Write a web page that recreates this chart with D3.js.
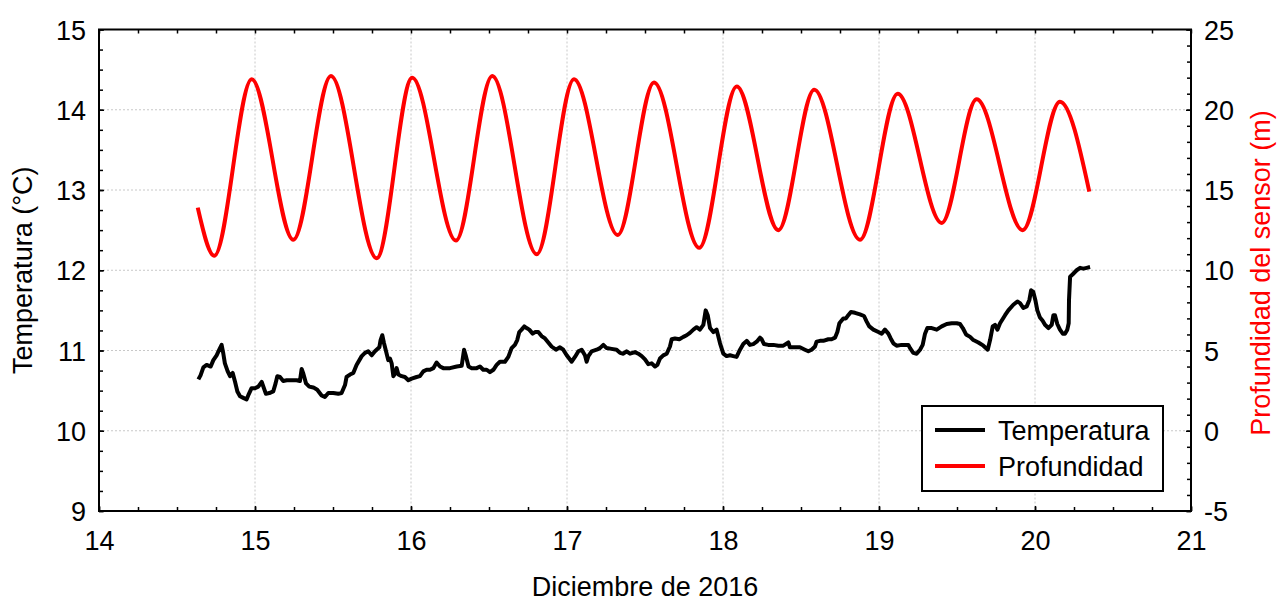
<!DOCTYPE html>
<html>
<head>
<meta charset="utf-8">
<script src="https://cdn.jsdelivr.net/npm/d3@7"></script>
<style>
  body { margin: 0; background: #fff; }
  svg { display: block; font-family: "Liberation Sans", Arial, sans-serif; }
</style>
</head>
<body>
<script>
// temperatura (left axis), dias de diciembre
const tempDay = [14.637,14.651,14.669,14.690,14.716,14.733,14.754,14.771,14.786,14.797,14.807,14.825,14.840,14.857,14.872,14.887,14.904,14.925,14.946,14.961,14.978,15.000,15.021,15.043,15.057,15.070,15.092,15.117,15.132,15.143,15.160,15.181,15.203,15.235,15.267,15.288,15.299,15.310,15.327,15.348,15.374,15.399,15.427,15.448,15.470,15.502,15.534,15.555,15.577,15.587,15.609,15.630,15.651,15.684,15.705,15.726,15.748,15.769,15.797,15.805,15.816,15.827,15.840,15.854,15.865,15.876,15.887,15.897,15.908,15.919,15.940,15.961,15.983,16.004,16.036,16.057,16.079,16.100,16.122,16.143,16.164,16.186,16.207,16.250,16.293,16.325,16.340,16.352,16.369,16.389,16.421,16.442,16.463,16.485,16.506,16.528,16.549,16.570,16.602,16.624,16.645,16.666,16.681,16.694,16.709,16.726,16.741,16.758,16.780,16.795,16.816,16.837,16.859,16.880,16.901,16.929,16.955,16.976,16.998,17.030,17.051,17.073,17.094,17.115,17.126,17.137,17.158,17.190,17.211,17.233,17.254,17.286,17.318,17.340,17.361,17.382,17.404,17.436,17.457,17.479,17.500,17.521,17.543,17.564,17.579,17.596,17.617,17.639,17.660,17.671,17.692,17.720,17.746,17.767,17.788,17.810,17.831,17.852,17.874,17.889,17.902,17.917,17.938,17.959,17.981,18.002,18.023,18.045,18.066,18.087,18.109,18.130,18.152,18.173,18.194,18.216,18.237,18.248,18.263,18.290,18.323,18.355,18.387,18.419,18.429,18.451,18.493,18.525,18.547,18.568,18.590,18.600,18.622,18.643,18.675,18.696,18.718,18.733,18.746,18.771,18.788,18.803,18.820,18.846,18.878,18.904,18.921,18.938,18.964,18.996,19.017,19.038,19.060,19.075,19.092,19.113,19.145,19.188,19.199,19.220,19.241,19.263,19.280,19.295,19.310,19.338,19.370,19.402,19.434,19.466,19.498,19.519,19.537,19.558,19.584,19.605,19.637,19.669,19.697,19.712,19.729,19.744,19.759,19.776,19.808,19.829,19.861,19.887,19.904,19.925,19.947,19.964,19.975,19.989,20.002,20.015,20.032,20.049,20.064,20.086,20.107,20.118,20.128,20.143,20.160,20.178,20.192,20.207,20.216,20.218,20.225,20.242,20.267,20.289,20.310,20.331,20.353];
const tempVal = [10.64,10.69,10.79,10.82,10.80,10.88,10.94,11.01,11.07,10.96,10.84,10.74,10.68,10.72,10.61,10.49,10.43,10.41,10.39,10.46,10.53,10.53,10.55,10.61,10.53,10.46,10.47,10.49,10.59,10.68,10.67,10.62,10.63,10.63,10.63,10.62,10.77,10.71,10.59,10.55,10.54,10.51,10.44,10.42,10.47,10.47,10.46,10.47,10.57,10.67,10.70,10.72,10.82,10.93,10.97,10.99,10.94,10.99,11.04,11.13,11.19,11.09,10.99,10.88,10.90,10.84,10.68,10.71,10.78,10.70,10.68,10.67,10.63,10.65,10.67,10.68,10.74,10.76,10.76,10.78,10.85,10.80,10.78,10.78,10.80,10.81,11.01,10.93,10.80,10.78,10.78,10.80,10.76,10.76,10.73,10.76,10.82,10.86,10.86,10.92,11.03,11.07,11.13,11.23,11.26,11.30,11.28,11.26,11.21,11.23,11.23,11.18,11.15,11.10,11.05,11.01,11.04,11.01,10.94,10.86,10.92,10.99,11.01,10.94,10.86,10.93,10.99,11.01,11.03,11.07,11.03,11.02,11.01,10.97,10.96,10.99,10.96,10.98,10.96,10.93,10.89,10.83,10.84,10.80,10.82,10.90,10.94,10.96,11.05,11.14,11.15,11.14,11.17,11.19,11.22,11.26,11.29,11.26,11.32,11.50,11.44,11.28,11.23,11.26,11.09,10.96,10.93,10.94,10.93,10.92,11.01,11.08,11.12,11.07,11.08,11.11,11.16,11.14,11.08,11.07,11.07,11.06,11.06,11.10,11.04,11.04,11.04,11.01,10.99,11.01,11.05,11.11,11.12,11.12,11.14,11.14,11.16,11.23,11.34,11.40,11.40,11.44,11.48,11.47,11.45,11.43,11.36,11.30,11.26,11.23,11.21,11.26,11.21,11.15,11.09,11.06,11.07,11.07,11.03,10.97,10.96,11.01,11.07,11.21,11.28,11.28,11.26,11.30,11.33,11.34,11.34,11.33,11.28,11.20,11.17,11.13,11.10,11.06,11.01,11.13,11.30,11.32,11.26,11.34,11.44,11.50,11.57,11.61,11.59,11.53,11.55,11.63,11.75,11.73,11.63,11.50,11.41,11.37,11.32,11.28,11.32,11.44,11.44,11.33,11.26,11.21,11.21,11.26,11.34,11.63,11.92,11.95,12.00,12.03,12.02,12.03,12.04];

// profundidad del sensor (right axis): start, troughs/peaks, end
const depthDay = [14.633,14.739,14.979,15.246,15.487,15.780,16.008,16.288,16.521,16.806,17.045,17.325,17.558,17.848,18.088,18.355,18.585,18.878,19.120,19.402,19.626,19.921,20.160,20.348];
const depthVal = [13.9,10.9,21.9,11.9,22.1,10.75,22.0,11.85,22.1,11.0,21.9,12.2,21.7,11.4,21.45,12.5,21.25,11.9,21.0,12.95,20.65,12.5,20.5,14.9];

const xTicks = [14, 15, 16, 17, 18, 19, 20, 21];
const yLeftTicks = [9, 10, 11, 12, 13, 14, 15];
const yRightTicks = [-5, 0, 5, 10, 15, 20, 25];
const seriesNames = ["Temperatura", "Profundidad"];
const seriesColors = ["#000000", "#ff0000"];

const W = 1277, H = 603;
const pLeft = 99, pRight = 1191, pTop = 29.5, pBottom = 511;

const svg = d3.select("body").append("svg").attr("width", W).attr("height", H);

const x = d3.scaleLinear().domain([14, 21]).range([pLeft, pRight]);
const yL = d3.scaleLinear().domain([9, 15]).range([pBottom, pTop]);
const yR = d3.scaleLinear().domain([-5, 25]).range([pBottom, pTop]);

// grid
const grid = svg.append("g").attr("stroke", "#c8c8c8").attr("stroke-width", 1).attr("stroke-dasharray", "2,2");
grid.selectAll("line.v").data(xTicks.slice(1, -1)).join("line")
  .attr("x1", d => x(d)).attr("x2", d => x(d)).attr("y1", pTop).attr("y2", pBottom);
grid.selectAll("line.h").data(yLeftTicks.slice(1, -1)).join("line")
  .attr("x1", pLeft).attr("x2", pRight).attr("y1", d => yL(d)).attr("y2", d => yL(d));

// series
const depthLine = d3.line().x((d, i) => x(depthDay[i])).y(d => yR(d)).curve(d3.curveMonotoneX);
svg.append("path").attr("d", depthLine(depthVal))
  .attr("fill", "none").attr("stroke", seriesColors[1]).attr("stroke-width", 4);

const tempLine = d3.line().x((d, i) => x(tempDay[i])).y(d => yL(d));
svg.append("path").attr("d", tempLine(tempVal))
  .attr("fill", "none").attr("stroke", seriesColors[0]).attr("stroke-width", 4)
  .attr("stroke-linejoin", "round");

// axes
const fontSize = 27;
function styleAxis(g) {
  g.select(".domain").remove();
  g.selectAll("line").attr("stroke", "#000").attr("stroke-width", 1.5);
  g.selectAll("text").attr("font-size", fontSize).attr("font-family", "Liberation Sans, Arial, sans-serif").attr("fill", "#000");
}
const minorX = d3.range(14, 21.001, 0.25);
const minorYL = d3.range(9, 15.001, 0.25);
const minorYR = d3.range(-5, 25.001, 1);

svg.append("g").attr("transform", `translate(0,${pBottom})`)
  .call(d3.axisBottom(x).tickValues(xTicks).tickSize(-5).tickPadding(20).tickFormat(d => String(d))).call(styleAxis);
svg.append("g").attr("transform", `translate(0,${pBottom})`)
  .call(d3.axisBottom(x).tickValues(minorX).tickSize(-4).tickFormat("")).call(styleAxis);
svg.append("g").attr("transform", `translate(0,${pTop})`)
  .call(d3.axisTop(x).tickValues(minorX).tickSize(-4).tickFormat("")).call(styleAxis);

svg.append("g").attr("transform", `translate(${pLeft},0)`)
  .call(d3.axisLeft(yL).tickValues(yLeftTicks).tickSize(-5).tickPadding(13).tickFormat(d => String(d))).call(styleAxis)
  .selectAll("text").attr("dy", "0.36em");
svg.append("g").attr("transform", `translate(${pLeft},0)`)
  .call(d3.axisLeft(yL).tickValues(minorYL).tickSize(-4).tickFormat("")).call(styleAxis);

svg.append("g").attr("transform", `translate(${pRight},0)`)
  .call(d3.axisRight(yR).tickValues(yRightTicks).tickSize(-5).tickPadding(13).tickFormat(d => String(d))).call(styleAxis)
  .selectAll("text").attr("dy", "0.36em");
svg.append("g").attr("transform", `translate(${pRight},0)`)
  .call(d3.axisRight(yR).tickValues(minorYR).tickSize(-4).tickFormat("")).call(styleAxis);

// frame
svg.append("rect").attr("x", pLeft).attr("y", pTop).attr("width", pRight - pLeft).attr("height", pBottom - pTop)
  .attr("fill", "none").attr("stroke", "#000").attr("stroke-width", 2);

// titles
svg.append("text").attr("x", (pLeft + pRight) / 2).attr("y", 596).attr("text-anchor", "middle")
  .attr("font-size", fontSize).text("Diciembre de 2016");
svg.append("text").attr("transform", `translate(32,${(pTop + pBottom) / 2}) rotate(-90)`).attr("text-anchor", "middle")
  .attr("font-size", fontSize).text("Temperatura (°C)");
svg.append("text").attr("transform", `translate(1270,273) rotate(-90)`).attr("text-anchor", "middle")
  .attr("font-size", fontSize).attr("fill", "#ff0000").text("Profundidad del sensor (m)");

// legend
const lg = svg.append("g");
lg.append("rect").attr("x", 922).attr("y", 406).attr("width", 241).attr("height", 85)
  .attr("fill", "#fff").attr("stroke", "#000").attr("stroke-width", 2);
seriesNames.forEach((name, i) => {
  const yy = 430 + i * 36;
  lg.append("line").attr("x1", 935).attr("x2", 985).attr("y1", yy).attr("y2", yy)
    .attr("stroke", seriesColors[i]).attr("stroke-width", 4);
  lg.append("text").attr("x", 998).attr("y", yy + 10).attr("font-size", fontSize).text(name);
});
</script>
</body>
</html>
